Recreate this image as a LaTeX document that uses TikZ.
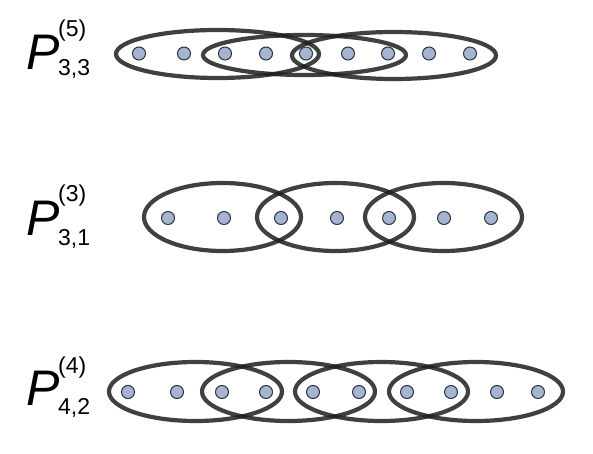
\documentclass[tikz,border=0pt]{standalone}
\usepackage{fontspec}
\setmainfont{Liberation Sans}
\usetikzlibrary{shapes.geometric}
\definecolor{dotfill}{HTML}{A5B5CF}
\definecolor{dotline}{HTML}{2B3345}
\definecolor{ringline}{HTML}{1E1E1E}
\tikzset{
  vtx/.style={circle, draw=dotline, line width=1pt, fill=dotfill, minimum size=13pt, inner sep=0pt},
  ring/.style={ellipse, draw=ringline, draw opacity=0.85, line width=4.2pt, inner sep=0pt},
  bigP/.style={font=\fontsize{50}{50}\selectfont\itshape, anchor=base west, inner sep=0pt},
  idx/.style={font=\fontsize{23}{23}\selectfont, anchor=base west, inner sep=0pt},
}
\begin{document}
\begin{tikzpicture}[x=1pt, y=-1pt]
\useasboundingbox (0,0) rectangle (593,454);

% ---------- row 1 : P^{(5)}_{3,3}
\node[bigP] (P1) at (26,70) {P};
\node[idx] (P1sup) at (58,37) {(5)};
\node[idx] (P1sub) at (58,76) {3,3};
\node[ring, minimum width=203pt, minimum height=48pt] (ra1) at (217.5,54) {};
\node[ring, minimum width=203pt, minimum height=40pt] (ra2) at (304.5,55) {};
\node[ring, minimum width=204pt, minimum height=47pt] (ra3) at (394,55.5) {};
\foreach \x [count=\i] in {139,184,225,266,306,348,388,429,470}
  \node[vtx] (a\i) at (\x,53.5) {};

% ---------- row 2 : P^{(3)}_{3,1}
\node[bigP] (P2) at (26,235) {P};
\node[idx] (P2sup) at (58,201) {(3)};
\node[idx] (P2sub) at (58,245) {3,1};
\node[ring, minimum width=157pt, minimum height=68pt] (rb1) at (222.5,217) {};
\node[ring, minimum width=157pt, minimum height=68pt] (rb2) at (335.5,217) {};
\node[ring, minimum width=157pt, minimum height=68pt] (rb3) at (443.5,217) {};
\foreach \x [count=\i] in {168,224,281,337,389,444,491}
  \node[vtx] (b\i) at (\x,218) {};

% ---------- row 3 : P^{(4)}_{4,2}
\node[bigP] (P3) at (26,405) {P};
\node[idx] (P3sup) at (58,373) {(4)};
\node[idx] (P3sub) at (58,414) {4,2};
\node[ring, minimum width=173pt, minimum height=59pt] (rc1) at (195.5,391.5) {};
\node[ring, minimum width=173pt, minimum height=59pt] (rc2) at (288.5,391.5) {};
\node[ring, minimum width=173pt, minimum height=59pt] (rc3) at (381.5,391.5) {};
\node[ring, minimum width=174pt, minimum height=59pt] (rc4) at (476,391.5) {};
\foreach \x [count=\i] in {128,177,222,266,313,359,407,451,497,538}
  \node[vtx] (c\i) at (\x,392) {};
\end{tikzpicture}
\end{document}
